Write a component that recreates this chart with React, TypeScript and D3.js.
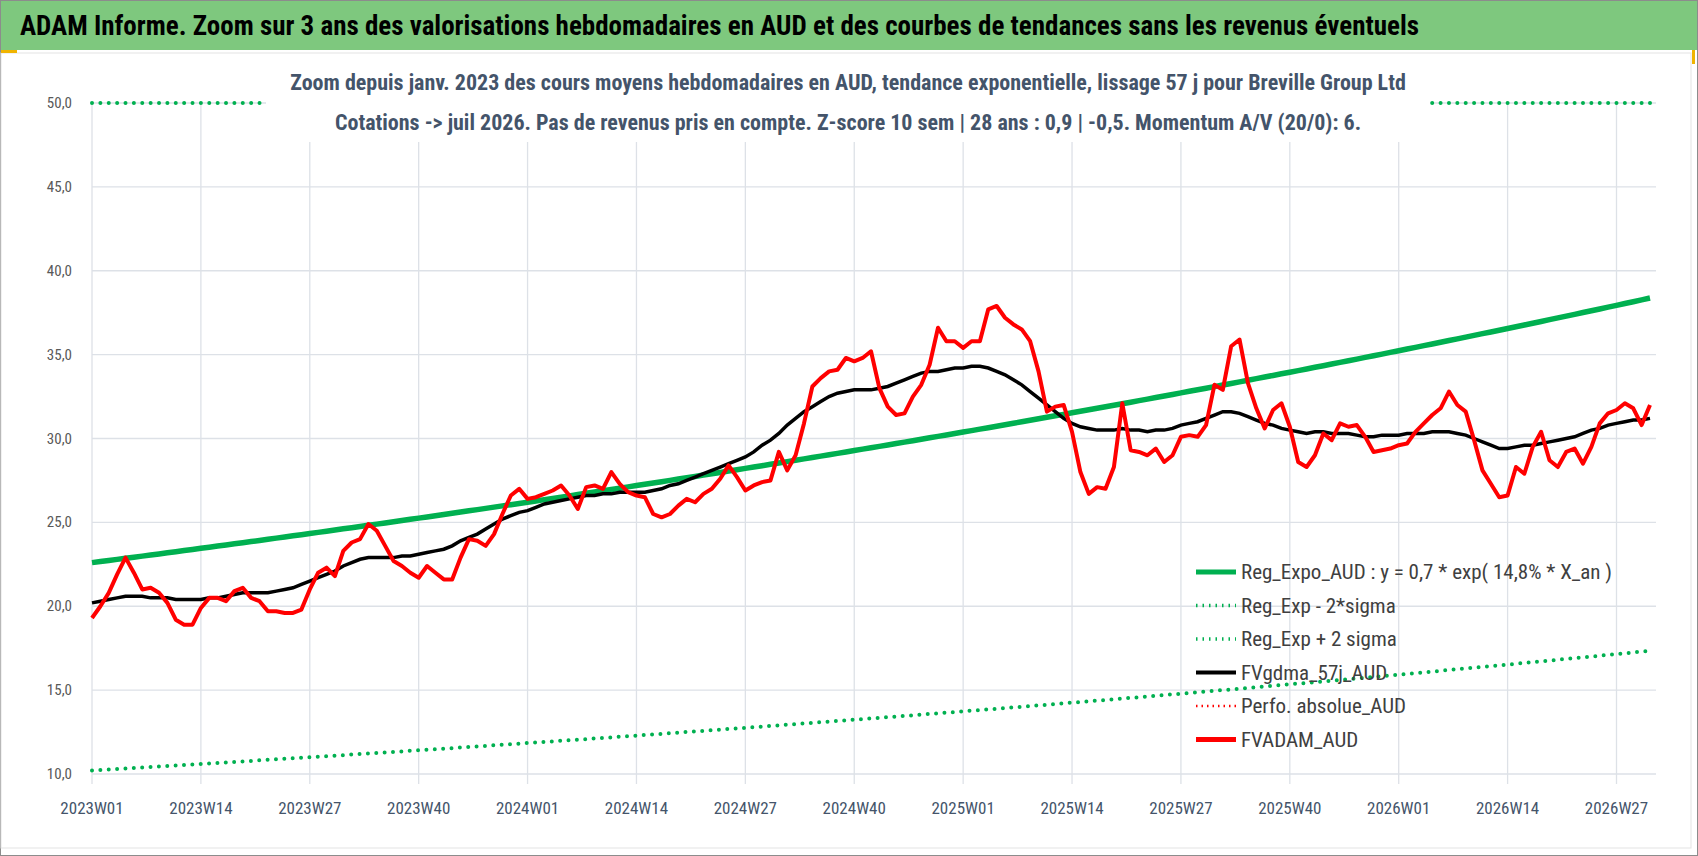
import { useRef, useEffect } from 'react';
import * as d3 from 'd3';

const W = 1698;
const H = 856;

const TITLE = 'ADAM Informe. Zoom sur 3 ans des valorisations hebdomadaires en AUD et des courbes de tendances sans les revenus éventuels';
const SUB1 = 'Zoom depuis janv. 2023 des cours moyens hebdomadaires en AUD, tendance exponentielle, lissage 57 j pour Breville Group Ltd';
const SUB2 = 'Cotations -> juil 2026. Pas de revenus pris en compte. Z-score 10 sem | 28 ans : 0,9 | -0,5. Momentum A/V (20/0): 6.';

const xTickLabels = ['2023W01', '2023W14', '2023W27', '2023W40', '2024W01', '2024W14', '2024W27', '2024W40',
  '2025W01', '2025W14', '2025W27', '2025W40', '2026W01', '2026W14', '2026W27'];
const yTicks = [10, 15, 20, 25, 30, 35, 40, 45, 50];

// FVADAM_AUD, weekly from 2023W01
const fvadam = [
  19.3, 20.0, 20.8, 21.9, 22.9, 22.0, 21.0, 21.1, 20.8, 20.2,
  19.2, 18.9, 18.9, 19.9, 20.5, 20.5, 20.3, 20.9, 21.1, 20.5,
  20.3, 19.7, 19.7, 19.6, 19.6, 19.8, 21.0, 22.0, 22.3, 21.8,
  23.3, 23.8, 24.0, 24.9, 24.5, 23.6, 22.7, 22.4, 22.0, 21.7,
  22.4, 22.0, 21.6, 21.6, 22.9, 24.0, 23.9, 23.6, 24.3, 25.5,
  26.6, 27.0, 26.4, 26.5, 26.7, 26.9, 27.2, 26.6, 25.8, 27.1,
  27.2, 27.0, 28.0, 27.3, 26.8, 26.6, 26.5, 25.5, 25.3, 25.5,
  26.0, 26.4, 26.2, 26.7, 27.0, 27.6, 28.4, 27.7, 26.9, 27.2,
  27.4, 27.5, 29.2, 28.1, 29.0, 30.9, 33.1, 33.6, 34.0, 34.1,
  34.8, 34.6, 34.8, 35.2, 33.0, 31.9, 31.4, 31.5, 32.5, 33.2,
  34.4, 36.6, 35.8, 35.8, 35.4, 35.8, 35.8, 37.7, 37.9, 37.2,
  36.8, 36.5, 35.8, 34.0, 31.6, 31.9, 32.0, 30.4, 28.0, 26.7,
  27.1, 27.0, 28.3, 32.1, 29.3, 29.2, 29.0, 29.4, 28.6, 29.0,
  30.1, 30.2, 30.1, 30.8, 33.2, 32.9, 35.5, 35.9, 33.3, 31.8,
  30.6, 31.7, 32.1, 30.7, 28.6, 28.3, 29.0, 30.3, 29.9, 30.9,
  30.7, 30.8, 30.1, 29.2, 29.3, 29.4, 29.6, 29.7, 30.4, 30.9,
  31.4, 31.8, 32.8, 32.0, 31.6, 29.9, 28.1, 27.3, 26.5, 26.6,
  28.3, 27.9, 29.5, 30.4, 28.7, 28.3, 29.2, 29.4, 28.5, 29.5,
  30.9, 31.5, 31.7, 32.1, 31.8, 30.8, 32.0,
];

// FVgdma_57j_AUD
const fvgdma = [
  20.2, 20.3, 20.4, 20.5, 20.6, 20.6, 20.6, 20.5, 20.5, 20.5,
  20.4, 20.4, 20.4, 20.4, 20.5, 20.5, 20.6, 20.7, 20.8, 20.8,
  20.8, 20.8, 20.9, 21.0, 21.1, 21.3, 21.5, 21.7, 21.9, 22.1,
  22.4, 22.6, 22.8, 22.9, 22.9, 22.9, 22.9, 23.0, 23.0, 23.1,
  23.2, 23.3, 23.4, 23.6, 23.9, 24.1, 24.3, 24.6, 24.9, 25.2,
  25.4, 25.6, 25.7, 25.9, 26.1, 26.2, 26.3, 26.4, 26.5, 26.6,
  26.6, 26.7, 26.7, 26.8, 26.8, 26.8, 26.8, 26.9, 27.0, 27.2,
  27.3, 27.5, 27.7, 27.9, 28.1, 28.3, 28.5, 28.7, 28.9, 29.2,
  29.6, 29.9, 30.3, 30.8, 31.2, 31.6, 31.9, 32.2, 32.5, 32.7,
  32.8, 32.9, 32.9, 32.9, 33.0, 33.1, 33.3, 33.5, 33.7, 33.9,
  34.0, 34.0, 34.1, 34.2, 34.2, 34.3, 34.3, 34.2, 34.0, 33.8,
  33.5, 33.2, 32.8, 32.4, 32.0, 31.6, 31.2, 30.9, 30.7, 30.6,
  30.5, 30.5, 30.5, 30.6, 30.5, 30.5, 30.4, 30.5, 30.5, 30.6,
  30.8, 30.9, 31.0, 31.2, 31.4, 31.6, 31.6, 31.5, 31.3, 31.1,
  30.9, 30.8, 30.6, 30.5, 30.4, 30.3, 30.4, 30.4, 30.3, 30.3,
  30.3, 30.2, 30.1, 30.1, 30.2, 30.2, 30.2, 30.3, 30.3, 30.3,
  30.4, 30.4, 30.4, 30.3, 30.2, 30.0, 29.8, 29.6, 29.4, 29.4,
  29.5, 29.6, 29.6, 29.7, 29.8, 29.9, 30.0, 30.1, 30.3, 30.5,
  30.6, 30.8, 30.9, 31.0, 31.1, 31.1, 31.2,
];

// Reg_Expo_AUD : y = 0,7 * exp(14,8% * X_an), shown from 22.6 at 2023W01
const REG_START = 22.6;
const REG_RATE = 0.148;
const LOW_FACTOR = 0.452;
const HIGH_FACTOR = 2.22;

const legendItems = [
  { label: 'Reg_Expo_AUD : y = 0,7 * exp( 14,8% *  X_an )', color: '#00b050', dash: null, width: 5 },
  { label: 'Reg_Exp - 2*sigma', color: '#00b050', dash: '1.5,5', width: 3.5 },
  { label: 'Reg_Exp + 2 sigma', color: '#00b050', dash: '1.5,5', width: 3.5 },
  { label: 'FVgdma_57j_AUD', color: '#000000', dash: null, width: 4 },
  { label: 'Perfo. absolue_AUD', color: '#ff0000', dash: '1.5,4', width: 2.5 },
  { label: 'FVADAM_AUD', color: '#ff0000', dash: null, width: 5 },
];

const FONT = '"Liberation Sans Narrow", "Roboto Condensed", "Open Sans", sans-serif';

export default function App() {
  const svgRef = useRef<SVGSVGElement>(null);

  useEffect(() => {
    const svg = d3.select(svgRef.current);
    svg.selectAll('*').remove();

    const n = fvadam.length;
    const x = d3.scaleLinear().domain([0, n - 1]).range([92, 1650]);
    const y = d3.scaleLinear().domain([10, 50]).range([774, 103]);
    const step = x(1) - x(0);

    svg.append('rect').attr('width', W).attr('height', H).attr('fill', '#fff');
    svg.append('rect').attr('x', 0.5).attr('y', 0.5).attr('width', W - 1).attr('height', H - 1)
      .attr('fill', 'none').attr('stroke', '#8c8c8c');
    // title bar
    svg.append('rect').attr('x', 1).attr('y', 1).attr('width', W - 2).attr('height', 49).attr('fill', '#7ec87e');
    svg.append('text').attr('x', 20).attr('y', 35).attr('font-family', FONT).attr('font-size', 27)
      .attr('font-weight', 'bold').attr('fill', '#000').text(TITLE);
    // chart box
    svg.append('rect').attr('x', 1).attr('y', 53).attr('width', W - 8).attr('height', 795)
      .attr('fill', '#fff').attr('stroke', '#e3e3e3');
    svg.append('rect').attr('x', 1).attr('y', 50).attr('width', 16).attr('height', 3).attr('fill', '#f0b400');
    svg.append('rect').attr('x', W - 6).attr('y', 50).attr('width', 3).attr('height', 14).attr('fill', '#f0b400');

    // grid
    const grid = svg.append('g');
    yTicks.forEach((v) => {
      grid.append('line').attr('x1', x(0)).attr('x2', x(n - 1) + 6).attr('y1', y(v)).attr('y2', y(v))
        .attr('stroke', '#dde1e7').attr('stroke-width', 1.3);
      svg.append('text').attr('x', 72).attr('y', y(v) + 5).attr('text-anchor', 'end')
        .attr('font-family', FONT).attr('font-size', 15).attr('fill', '#595959')
        .text(d3.format('.1f')(v).replace('.', ','));
    });
    xTickLabels.forEach((lab, i) => {
      const xi = x(i * 13);
      grid.append('line').attr('x1', xi).attr('x2', xi).attr('y1', y(50)).attr('y2', y(10) + 10)
        .attr('stroke', '#dde1e7').attr('stroke-width', 1.3);
      svg.append('text').attr('x', xi).attr('y', 814).attr('text-anchor', 'middle')
        .attr('font-family', FONT).attr('font-size', 17).attr('fill', '#44546a').text(lab);
    });

    const idx = d3.range(n);
    const reg = idx.map((i) => REG_START * Math.exp(REG_RATE * (i / 52)));
    const line = d3.line<number>().x((_, i) => x(i)).y((v) => y(v));

    const dotted = (vals: number[]) =>
      svg.append('path').attr('d', line(vals)).attr('fill', 'none').attr('stroke', '#00b050')
        .attr('stroke-width', 4).attr('stroke-linecap', 'round').attr('stroke-dasharray', `0,${step}`);
    dotted(reg.map((v) => Math.min(50, v * HIGH_FACTOR)));
    dotted(reg.map((v) => v * LOW_FACTOR));

    svg.append('path').attr('d', line(reg)).attr('fill', 'none').attr('stroke', '#00b050').attr('stroke-width', 5.5);
    svg.append('path').attr('d', line(fvgdma)).attr('fill', 'none').attr('stroke', '#000').attr('stroke-width', 3.5);
    svg.append('path').attr('d', line(fvadam)).attr('fill', 'none').attr('stroke', '#ff0000').attr('stroke-width', 4)
      .attr('stroke-linejoin', 'round');

    // subtitle
    svg.append('rect').attr('x', 266).attr('y', 62).attr('width', 1164).attr('height', 80).attr('fill', '#fff');
    [SUB1, SUB2].forEach((s, i) => {
      svg.append('text').attr('x', 848).attr('y', 90 + i * 40).attr('text-anchor', 'middle')
        .attr('font-family', FONT).attr('font-size', 22).attr('font-weight', 'bold').attr('fill', '#44546a').text(s);
    });

    // legend
    legendItems.forEach((it, i) => {
      const ly = 572 + i * 33.5;
      svg.append('line').attr('x1', 1196).attr('x2', 1236).attr('y1', ly).attr('y2', ly)
        .attr('stroke', it.color).attr('stroke-width', it.width)
        .attr('stroke-dasharray', it.dash ?? null);
      svg.append('text').attr('x', 1241).attr('y', ly + 7).attr('font-family', FONT).attr('font-size', 21)
        .attr('fill', '#404040').text(it.label);
    });
  }, []);

  return <svg ref={svgRef} width={W} height={H} style={{ position: 'absolute', left: 0, top: 0 }} />;
}
